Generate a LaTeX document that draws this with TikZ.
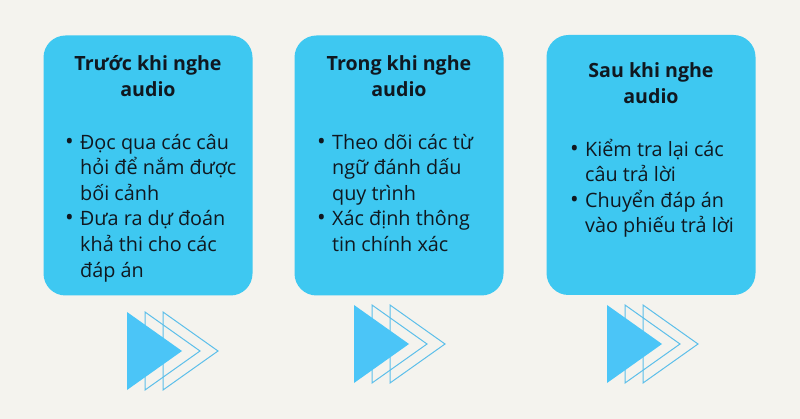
\documentclass[tikz,border=0pt]{standalone}
\usepackage{fontspec}
\setmainfont{Open Sans}
\usetikzlibrary{positioning}
\definecolor{fondo}{HTML}{F4F3EE}
\definecolor{celeste}{HTML}{3EC8F1}
\definecolor{flecha}{HTML}{4BC5F7}
\definecolor{contorno}{HTML}{5CBFEA}
\definecolor{tinta}{HTML}{101820}
\tikzset{
  caja/.style={fill=celeste, rounded corners=22pt, minimum width=209pt,
    minimum height=260pt, inner sep=0pt},
  titulo/.style={font=\fontsize{19.6}{25.5}\selectfont\bfseries, align=center,
    text=tinta},
  lista/.style={font=\fontsize{19.8}{25.6}\selectfont, anchor=north west,
    inner sep=0pt, text=tinta},
}
\newcommand{\punto}{\makebox[15pt][l]{\fontsize{23}{23}\selectfont\textbullet}}
\begin{document}
\begin{tikzpicture}[x=1pt, y=-1pt]
    % Fondo y tamaño de la imagen
    \fill[fondo] (0,0) rectangle (800,419);
    \useasboundingbox (0,0) rectangle (800,419);
    % Las tres cajas
    \node[caja] (caja1) at (148,165.5) {};
    \node[caja] (caja2) at (399,165.5) {};
    \node[caja] (caja3) at (651,165) {};
    % Titulos
    \node[titulo] (titulo1) at (148,76) {Trước khi nghe\\audio};
    \node[titulo] (titulo2) at (399,76) {Trong khi nghe\\audio};
    \node[titulo] (titulo3) at (651,83) {Sau khi nghe\\audio};
    % Listas de cada caja
    \node[lista] (lista1) at (65,131) {%
      \begin{tabular}{@{}l@{}l@{}}
        \punto & Đọc qua các câu\\
               & hỏi để nắm được\\
               & bối cảnh\\
        \punto & Đưa ra dự đoán\\
               & khả thi cho các\\
               & đáp án
      \end{tabular}};
    \node[lista] (lista2) at (317,131) {%
      \begin{tabular}{@{}l@{}l@{}}
        \punto & Theo dõi các từ\\
               & ngữ đánh dấu\\
               & quy trình\\
        \punto & Xác định thông\\
               & tin chính xác
      \end{tabular}};
    \node[lista] (lista3) at (570,138) {%
      \begin{tabular}{@{}l@{}l@{}}
        \punto & Kiểm tra lại các\\
               & câu trả lời\\
        \punto & Chuyển đáp án\\
               & vào phiếu trả lời
      \end{tabular}};
    % Flechas debajo de las cajas
    \foreach \x/\y in {127/312, 354/305, 607/305} {
        \foreach \d in {36,18} {
            \draw[contorno, line width=1pt, line join=miter]
                (\x+\d,\y) -- (\x+\d+55,\y+39) -- (\x+\d,\y+78) -- cycle;
        }
        \fill[flecha] (\x,\y) -- (\x+55,\y+39) -- (\x,\y+78) -- cycle;
    }
\end{tikzpicture}
\end{document}
